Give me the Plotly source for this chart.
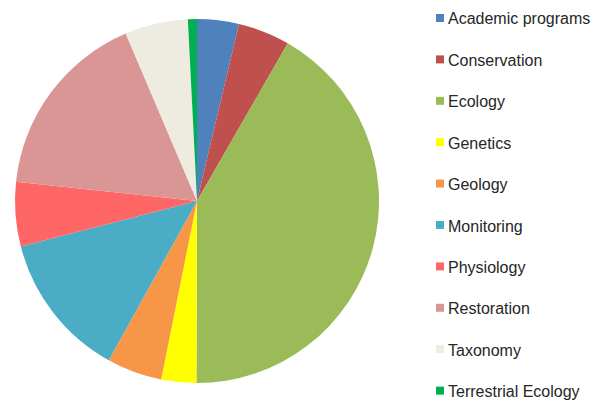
import plotly.graph_objects as go

labels = ["Academic programs", "Conservation", "Ecology", "Genetics", "Geology",
          "Monitoring", "Physiology", "Restoration", "Taxonomy", "Terrestrial Ecology"]
values = [3.7, 4.6, 41.7, 3.1, 4.9, 12.9, 5.7, 16.9, 5.6, 0.8]
colors = ["#4F81BD", "#C0504D", "#9BBB59", "#FFFF00", "#F79646",
          "#4BACC6", "#FF6666", "#DA9694", "#EEECE1", "#00B050"]

W, H = 610, 402

fig = go.Figure()
fig.add_trace(go.Pie(
    labels=labels, values=values, sort=False, direction="clockwise", rotation=0,
    marker=dict(colors=colors, line=dict(width=0)),
    textinfo="none", showlegend=False,
    domain=dict(x=[15 / W, 379 / W], y=[(H - 388) / H, (H - 14) / H]),
))

# legend drawn as squares + text
y0, step = 18, 41.4
for i, (lab, col) in enumerate(zip(labels, colors)):
    yc = y0 + i * step
    fig.add_shape(type="rect", xref="paper", yref="paper",
                  x0=436 / W, x1=444 / W, y0=(H - yc - 4) / H, y1=(H - yc + 4) / H,
                  fillcolor=col, line=dict(width=0))
    fig.add_annotation(x=446 / W, y=(H - yc - 1) / H, xref="paper", yref="paper",
                       text=lab, showarrow=False, xanchor="left", yanchor="middle",
                       font=dict(family="Liberation Sans, Arial", size=16, color="#262626"))

fig.update_layout(width=W, height=H, margin=dict(l=0, r=0, t=0, b=0),
                  paper_bgcolor="white", plot_bgcolor="white")
fig.write_html("out.html")
